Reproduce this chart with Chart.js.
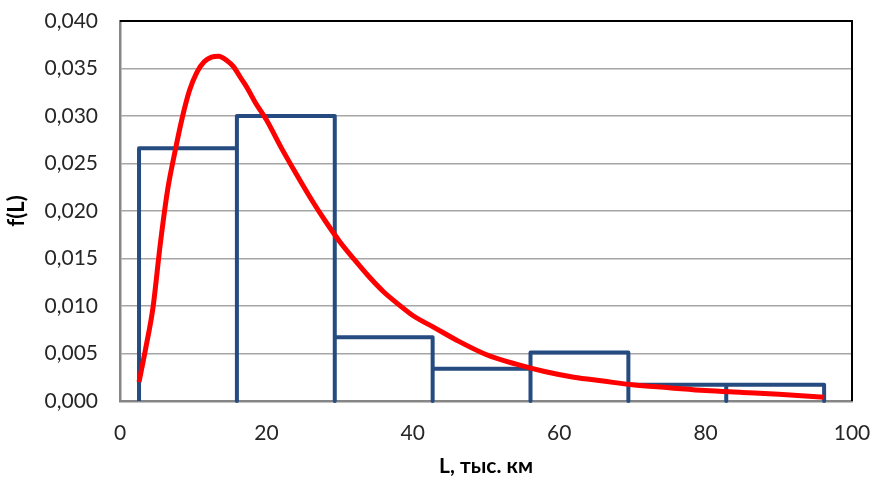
<!DOCTYPE html>
<html>
<head>
<meta charset="utf-8">
<script src="https://cdn.jsdelivr.net/npm/chart.js@4"></script>
<style>
  html, body { margin: 0; padding: 0; background: #fff; }
  #wrap { width: 875px; height: 483px; }
</style>
</head>
<body>
<div id="wrap"><canvas id="chart"></canvas></div>
<script>
// histogram: bin edges and heights
const binEdges = [2.6, 15.97, 29.34, 42.71, 56.08, 69.45, 82.82, 96.19];
const binHeights = [0.0266, 0.0300, 0.0067, 0.0034, 0.0051, 0.0017, 0.0017];

// density curve
const curveX = [2.6, 3.5, 4.5, 5.5, 6.5, 7.5, 8.5, 9.5, 10.5, 11.5, 12.5, 13.5, 14.5, 15.5, 16.5, 17.5, 18.5,
                20, 22, 24, 26, 28, 30, 32, 34, 36, 38, 40, 43, 46, 50, 54, 58, 62, 66, 70, 75, 80, 85, 90, 96.2];
const curveY = [0.0020, 0.0055, 0.0098, 0.0165, 0.0222, 0.0262, 0.0298, 0.0327, 0.0346, 0.0357, 0.0362, 0.0363,
                0.0359, 0.0352, 0.0340, 0.0328, 0.0314, 0.0296, 0.0267, 0.0240, 0.0214, 0.0190, 0.0168, 0.0149,
                0.0131, 0.0115, 0.0102, 0.0090, 0.0077, 0.0064, 0.0049, 0.0039, 0.0031, 0.0025, 0.0021, 0.0017,
                0.0014, 0.0011, 0.0009, 0.0007, 0.0004];

const xTicksMax = 100;
const yTicksMax = 0.04;

// outline of the bars as one path
const histPts = [];
for (let i = 0; i < binHeights.length; i++) {
	histPts.push({x: binEdges[i], y: 0});
	histPts.push({x: binEdges[i], y: binHeights[i]});
	histPts.push({x: binEdges[i + 1], y: binHeights[i]});
	histPts.push({x: binEdges[i + 1], y: 0});
}
const curvePts = curveX.map((x, i) => ({x: x, y: curveY[i]}));

const FONT = 'Lato, "Open Sans", "Liberation Sans", sans-serif';

const frame = {
	id: 'frame',
	beforeDatasetsDraw(chart) {
		const {ctx, chartArea: a} = chart;
		ctx.save();
		ctx.strokeStyle = '#000';
		ctx.lineWidth = 2;
		ctx.beginPath();
		ctx.moveTo(a.left, a.top);
		ctx.lineTo(a.right, a.top);
		ctx.lineTo(a.right, a.bottom);
		ctx.stroke();
		ctx.restore();
	}
};

const ctx = document.getElementById('chart').getContext('2d');
const chart = new Chart(ctx, {
	type: 'scatter',
	data: {
		datasets: [{
			label: 'f(L)',
			data: curvePts,
			showLine: true,
			borderColor: '#FF0000',
			borderWidth: 5,
			pointRadius: 0,
			tension: 0.4,
			cubicInterpolationMode: 'monotone',
			clip: false
		}, {
			label: 'hist',
			data: histPts,
			showLine: true,
			borderColor: '#254B80',
			borderWidth: 4,
			pointRadius: 0,
			tension: 0,
			borderJoinStyle: 'round',
			clip: false
		}]
	},
	options: {
		responsive: true,
		maintainAspectRatio: false,
		animation: false,
		layout: {
			padding: {left: 0, right: 23, top: 21, bottom: 0}
		},
		plugins: {
			legend: {display: false},
			tooltip: {enabled: false}
		},
		scales: {
			x: {
				type: 'linear',
				min: 0,
				max: xTicksMax,
				afterFit(scale) {
					scale.height = 82;
					scale.paddingLeft = 0;
					scale.paddingRight = 0;
				},
				ticks: {
					stepSize: 20,
					padding: 20,
					color: '#262626',
					font: {family: FONT, size: 21}
				},
				grid: {color: 'transparent', drawTicks: false},
				border: {display: true, color: '#868686', width: 2.5},
				title: {
					display: true,
					text: 'L, тыс. км',
					color: '#000',
					padding: {top: 0, bottom: 4},
					font: {family: FONT, size: 21, weight: 'bold'}
				}
			},
			y: {
				min: 0,
				max: yTicksMax,
				afterFit(scale) {
					scale.width = 120;
					scale.paddingTop = 0;
					scale.paddingBottom = 0;
				},
				ticks: {
					stepSize: 0.005,
					padding: 22,
					color: '#262626',
					font: {family: FONT, size: 21},
					callback: v => v.toFixed(3).replace('.', ',')
				},
				grid: {color: '#A6A6A6', lineWidth: 1.5, drawTicks: false},
				border: {display: true, color: '#868686', width: 2.5},
				title: {
					display: true,
					text: 'f(L)',
					color: '#000',
					padding: {top: 4, bottom: 0},
					font: {family: FONT, size: 22, weight: 'bold'}
				}
			}
		}
	},
	plugins: [frame]
});
</script>
</body>
</html>
